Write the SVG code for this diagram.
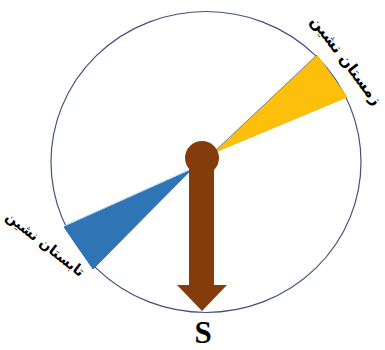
<svg xmlns="http://www.w3.org/2000/svg" width="385" height="350" viewBox="0 0 385 350">
<style>
.lbl{font-family:"DejaVu Sans","Noto Sans",sans-serif;font-weight:bold;fill:#000;text-anchor:middle}
</style>
<rect width="385" height="350" fill="#fff"/>
<g id="dial">
<ellipse cx="206" cy="162" rx="155" ry="150.5" fill="none" stroke="#3f4f7f" stroke-width="1.2"/>
</g>
<g id="winter">
<polygon points="213,153 317,55 347,97" fill="#fcbf0c" stroke="#f7b90a" stroke-width="1"/>
<line x1="213" y1="153" x2="317" y2="55" stroke="#7b8bb5" stroke-width="1"/>
<text class="lbl" font-size="15.5" transform="translate(347,60) rotate(53)" y="6">زمستان نشین</text>
</g>
<g id="summer">
<polygon points="191,170 64,227 93,269" fill="#2f75b6" stroke="#2e74b5" stroke-width="1"/>
<line x1="191" y1="169" x2="64" y2="226" stroke="#bcd3ea" stroke-width="1"/>
<text class="lbl" font-size="14" transform="translate(46,243) rotate(38)" y="6">تابستان نشین</text>
</g>
<g id="arrow">
<rect x="189" y="160" width="25" height="126" fill="#843c0c"/>
<polygon points="177,285 227,285 202,311" fill="#843c0c"/>
<circle cx="202" cy="158" r="17" fill="#843c0c"/>
</g>
<g id="south">
<text x="203" y="343" font-family="'Liberation Serif',serif" font-weight="bold" font-size="31" text-anchor="middle" fill="#000">S</text>
</g>
</svg>
